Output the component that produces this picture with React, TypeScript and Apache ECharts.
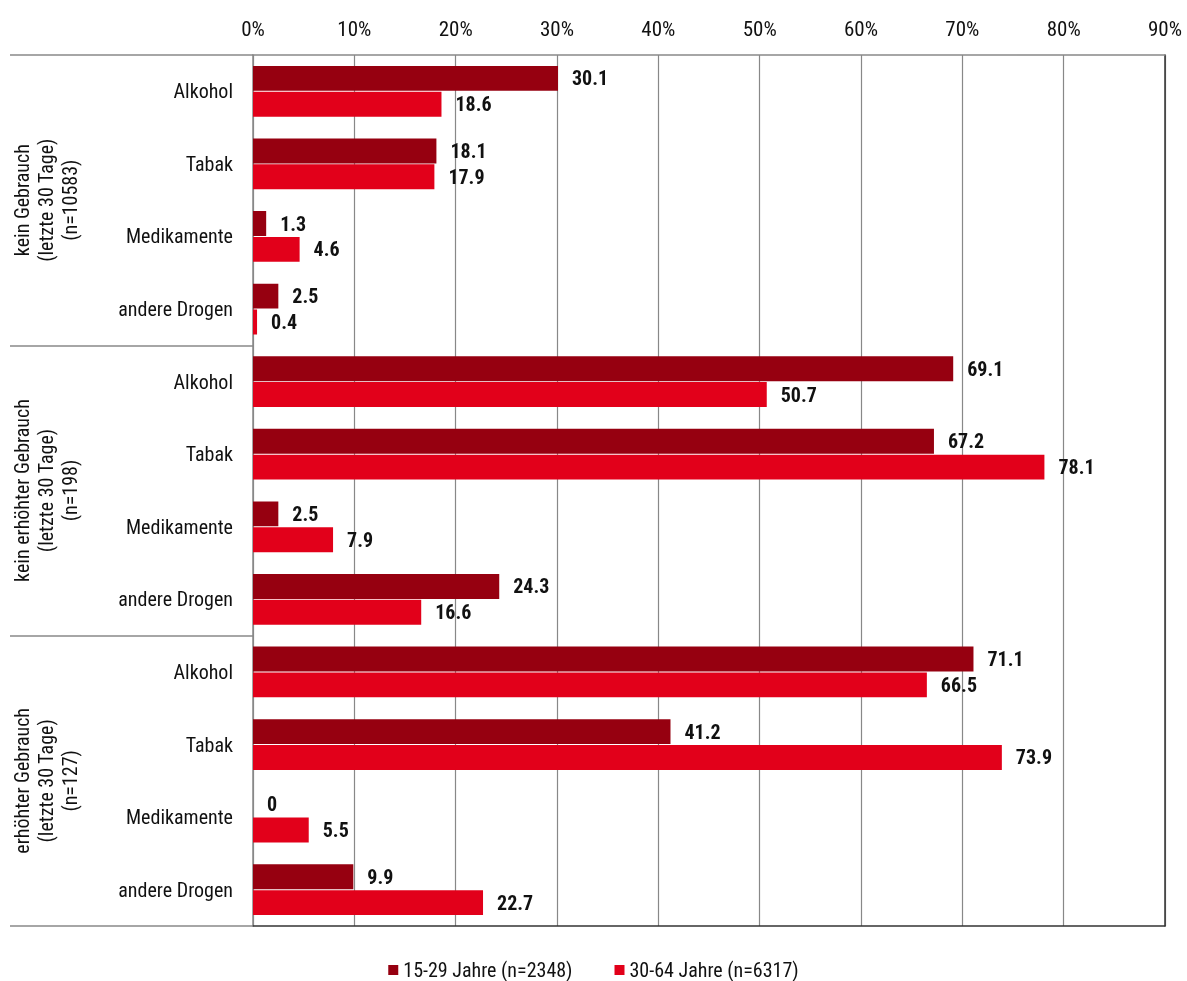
import React, { useEffect, useRef } from "react";
import * as echarts from "echarts";

const categories = [
  "Alkohol", "Tabak", "Medikamente", "andere Drogen",
  "Alkohol", "Tabak", "Medikamente", "andere Drogen",
  "Alkohol", "Tabak", "Medikamente", "andere Drogen",
];
const groups = [
  "kein Gebrauch\n(letzte 30 Tage)\n(n=10583)",
  "kein erhöhter Gebrauch\n(letzte 30 Tage)\n(n=198)",
  "erhöhter Gebrauch\n(letzte 30 Tage)\n(n=127)",
];
const young = [30.1, 18.1, 1.3, 2.5, 69.1, 67.2, 2.5, 24.3, 71.1, 41.2, 0, 9.9];
const older = [18.6, 17.9, 4.6, 0.4, 50.7, 78.1, 7.9, 16.6, 66.5, 73.9, 5.5, 22.7];
const seriesNames = ["15-29 Jahre (n=2348)", "30-64 Jahre (n=6317)"];
const xTicks = [0, 10, 20, 30, 40, 50, 60, 70, 80, 90];

const FONT = "'Roboto Condensed', 'Arial Narrow', sans-serif";

export default function App() {
  const ref = useRef<HTMLDivElement>(null);
  useEffect(() => {
    if (!ref.current) return;
    const chart = echarts.init(ref.current, undefined, { renderer: "svg" });
    const labelStyle = {
      show: true,
      position: "right" as const,
      distance: 14,
      color: "#111",
      fontWeight: "bold" as const,
      fontSize: 20,
      fontFamily: FONT,
    };
    chart.setOption({
      animation: false,
      textStyle: { fontFamily: FONT },
      grid: { left: 253, right: 22, top: 55, bottom: 55, containLabel: false },
      legend: {
        top: 955,
        left: "center",
        itemWidth: 10,
        itemHeight: 10,
        itemGap: 42,
        icon: "rect",
        textStyle: { fontSize: 20, color: "#111", fontFamily: FONT },
        data: seriesNames,
      },
      xAxis: [
        {
          type: "value",
          position: "top",
          min: 0,
          max: 90,
          interval: 10,
          axisLine: { show: true, lineStyle: { color: "#888", width: 1.5 } },
          axisTick: { show: false },
          splitLine: { show: true, lineStyle: { color: "#888", width: 1.2 } },
          axisLabel: {
            margin: 16,
            fontSize: 21,
            color: "#111",
            fontFamily: FONT,
            formatter: (v: number) => (xTicks.includes(v) ? v + "%" : ""),
          },
        },
        {
          type: "value",
          position: "bottom",
          min: 0,
          max: 90,
          axisLine: { show: true, lineStyle: { color: "#333", width: 1.5 } },
          axisTick: { show: false },
          splitLine: { show: false },
          axisLabel: { show: false },
        },
      ],
      yAxis: [
        {
          type: "category",
          inverse: true,
          data: categories,
          axisLine: { show: true, lineStyle: { color: "#888", width: 1.5 } },
          axisTick: { show: false },
          axisLabel: { margin: 20, fontSize: 20, color: "#111", fontFamily: FONT },
        },
        {
          type: "category",
          inverse: true,
          position: "left",
          data: groups,
          axisLine: { show: false },
          axisTick: { show: true, length: 243, lineStyle: { color: "#888", width: 1.5 } },
          axisLabel: {
            rotate: 90,
            margin: 171,
            fontSize: 20,
            lineHeight: 24,
            color: "#111",
            fontFamily: FONT,
            align: "center",
          },
        },
        {
          type: "category",
          position: "right",
          data: categories,
          axisLine: { show: true, lineStyle: { color: "#333", width: 1.5 } },
          axisTick: { show: false },
          axisLabel: { show: false },
        },
      ],
      series: [
        {
          name: seriesNames[0],
          type: "bar",
          data: young,
          barGap: "4%",
          barCategoryGap: "30%",
          itemStyle: { color: "#960010" },
          label: labelStyle,
        },
        {
          name: seriesNames[1],
          type: "bar",
          data: older,
          itemStyle: { color: "#E2001A" },
          label: labelStyle,
        },
      ],
    });
    return () => chart.dispose();
  }, []);
  return (
    <div
      ref={ref}
      style={{ position: "fixed", left: 0, top: 0, width: 1187, height: 981 }}
    />
  );
}
